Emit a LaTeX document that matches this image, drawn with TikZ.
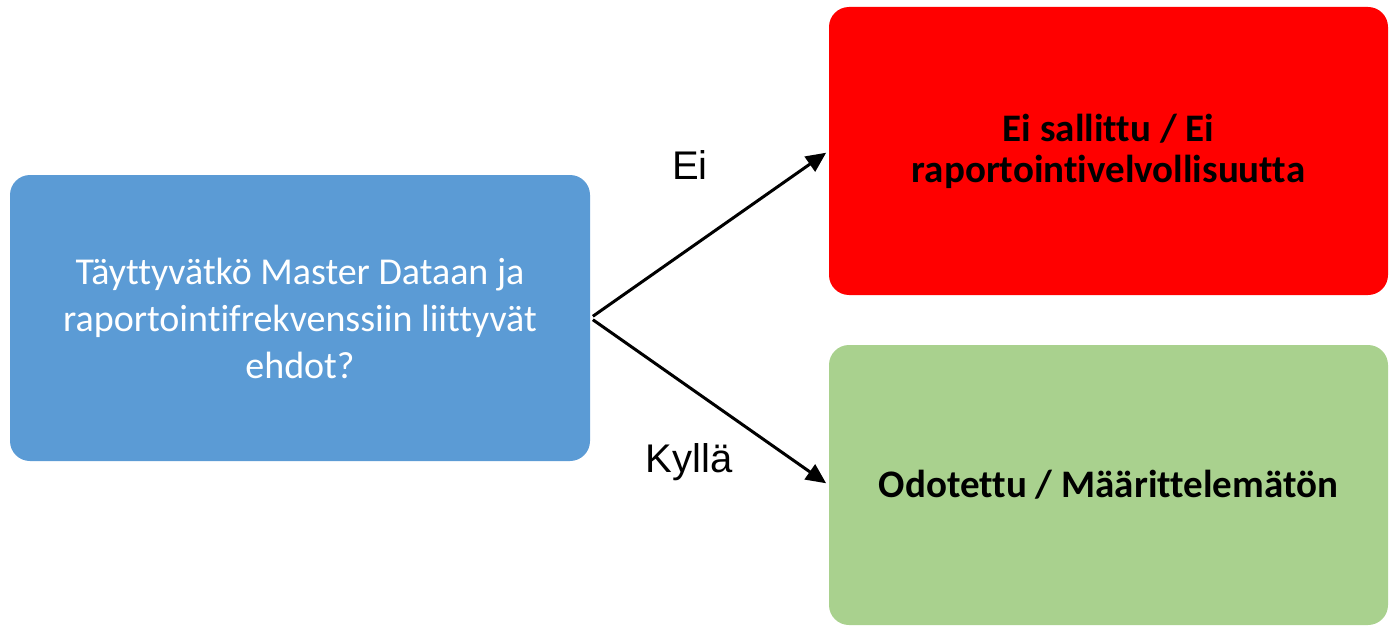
\documentclass[tikz,border=0pt]{standalone}
\usepackage{fontspec}
\setmainfont{Carlito}[Ligatures={NoCommon}]
\newfontfamily\labelfont{Liberation Sans}
\usetikzlibrary{arrows.meta}
\definecolor{askblue}{HTML}{5B9BD5}
\definecolor{noRed}{HTML}{FF0000}
\definecolor{yesGreen}{HTML}{A9D18E}

\begin{document}
\begin{tikzpicture}[x=0.5pt, y=-0.5pt,
    box/.style={rectangle, rounded corners=10pt, align=center, inner sep=0pt},
    answer/.style={box, minimum width=279.5pt, font=\fontsize{19.5}{20.5}\selectfont\bfseries},
    choice/.style={font=\labelfont\fontsize{20}{24}\selectfont},
    arrow/.style={line width=1.5pt, -{Triangle[length=10pt,width=9pt]}}]
    \useasboundingbox (0,0) rectangle (1391,626);
    \node[box, fill=askblue, text=white, minimum width=290pt, minimum height=143pt,
        font=\fontsize{19}{23.5}\selectfont]
        (ask) at (300,318) {Täyttyvätkö Master Dataan ja\\raportointifrekvenssiin liittyvät\\ehdot?};
    \node[answer, fill=noRed, minimum height=144pt]
        (no) at (1108.5,151) {Ei sallittu / Ei\\raportointivelvollisuutta};
    \node[answer, fill=yesGreen, minimum height=140pt]
        (yes) at (1108.5,485) {Odotettu / Määrittelemätön};
    \draw[arrow, shorten <=1.5pt, shorten >=1.5pt] (ask.east) -- (no.west);
    \draw[arrow, shorten <=1.5pt, shorten >=1.5pt] (ask.east) -- (yes.west);
    \node[choice] (eiLabel) at (690,165) {Ei};
    \node[choice] (kyllaLabel) at (689,462) {Kyllä};
\end{tikzpicture}
\end{document}
